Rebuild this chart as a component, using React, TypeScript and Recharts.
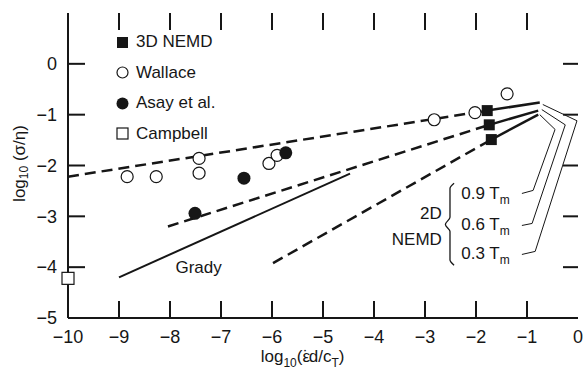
import { ComposedChart, Line, Scatter, XAxis, YAxis, Legend, Label } from 'recharts';

const xTicks = [-10, -9, -8, -7, -6, -5, -4, -3, -2, -1, 0];
const yTicks = [-5, -4, -3, -2, -1, 0];

// measured points
const nemd3d = [
  { x: -1.78, y: -0.92 },
  { x: -1.74, y: -1.2 },
  { x: -1.7, y: -1.49 },
];
const wallace = [
  { x: -8.84, y: -2.22 },
  { x: -8.27, y: -2.22 },
  { x: -7.43, y: -1.86 },
  { x: -7.43, y: -2.15 },
  { x: -6.06, y: -1.96 },
  { x: -5.9, y: -1.8 },
  { x: -2.82, y: -1.1 },
  { x: -2.02, y: -0.96 },
  { x: -1.39, y: -0.59 },
];
const asay = [
  { x: -7.51, y: -2.94 },
  { x: -6.55, y: -2.25 },
  { x: -5.73, y: -1.75 },
];
const campbell = [{ x: -10, y: -4.22 }];

// 2D NEMD fits: dashed = extrapolation, solid = simulated range
const upperDash = [{ x: -10, y: -2.22 }, { x: -1.78, y: -0.92 }];
const upperSolid = [{ x: -1.78, y: -0.92 }, { x: -0.75, y: -0.76 }];
const middleDash = [{ x: -8.04, y: -3.2 }, { x: -1.74, y: -1.2 }];
const middleSolid = [{ x: -1.74, y: -1.2 }, { x: -0.78, y: -0.92 }];
const lowerDash = [{ x: -5.98, y: -3.92 }, { x: -1.7, y: -1.49 }];
const lowerSolid = [{ x: -1.7, y: -1.49 }, { x: -0.78, y: -1.0 }];
const grady = [{ x: -9.0, y: -4.2 }, { x: -4.47, y: -2.16 }];

// leader lines from the temperature labels to the line ends
const leader09 = [{ x: -1.1, y: -2.55 }, { x: -0.88, y: -2.49 }, { x: -0.45, y: -1.29 }, { x: -0.75, y: -1.0 }];
const leader06 = [{ x: -1.1, y: -3.18 }, { x: -0.9, y: -3.14 }, { x: -0.25, y: -1.2 }, { x: -0.71, y: -0.9 }];
const leader03 = [{ x: -1.1, y: -3.75 }, { x: -0.84, y: -3.69 }, { x: -0.02, y: -1.12 }, { x: -0.69, y: -0.8 }];
const brace = [
  { x: -2.43, y: -2.35 },
  { x: -2.51, y: -2.45 },
  { x: -2.51, y: -3.02 },
  { x: -2.6, y: -3.16 },
  { x: -2.51, y: -3.3 },
  { x: -2.51, y: -3.86 },
  { x: -2.43, y: -3.96 },
];

const notes = [
  { x: -7.44, y: -4.0, text: 'Grady', anchor: 'middle' },
  { x: -2.67, y: -2.94, text: '2D', anchor: 'end' },
  { x: -2.67, y: -3.45, text: 'NEMD', anchor: 'end' },
];
const tempLabels = [
  { x: -2.29, y: -2.55, text: '0.9' },
  { x: -2.29, y: -3.16, text: '0.6' },
  { x: -2.29, y: -3.73, text: '0.3' },
];

const legendItems = ['3D NEMD', 'Wallace', 'Asay et al.', 'Campbell'];

// inward tick marks on all four sides, placed at the tick values
const tickPoints = [
  ...xTicks.slice(1, -1).map((t) => ({ x: t, y: -5, side: 'bottom' })),
  ...xTicks.slice(1, -1).map((t) => ({ x: t, y: 1, side: 'top' })),
  ...yTicks.slice(1).map((t) => ({ x: -10, y: t, side: 'left' })),
  ...yTicks.slice(1).map((t) => ({ x: 0, y: t, side: 'right' })),
];

const INK = '#161616';
const FONT = '"Liberation Sans", Arial, sans-serif';

const fmt = (v: number) => (v < 0 ? '\u2212' + Math.abs(v) : String(v));

const FilledSquare = ({ cx, cy }: any) => <rect x={cx - 5.5} y={cy - 5.5} width={11} height={11} fill={INK} />;
const OpenSquare = ({ cx, cy }: any) => <rect x={cx - 6} y={cy - 6} width={12} height={12} fill="#fff" stroke={INK} strokeWidth={1.2} />;
const OpenCircle = ({ cx, cy }: any) => <circle cx={cx} cy={cy} r={6} fill="#fff" stroke={INK} strokeWidth={1.2} />;
const FilledCircle = ({ cx, cy }: any) => <circle cx={cx} cy={cy} r={6.5} fill={INK} />;

const TickMark = ({ cx, cy, payload }: any) => {
  const w = 2;
  const side = payload && payload.side;
  if (side === 'bottom') return <rect x={cx - w / 2} y={cy - 17} width={w} height={17} fill={INK} />;
  if (side === 'top') return <rect x={cx - w / 2} y={cy} width={w} height={17} fill={INK} />;
  if (side === 'left') return <rect x={cx} y={cy - w / 2} width={17} height={w} fill={INK} />;
  return <rect x={cx - 15} y={cy - w / 2} width={15} height={w} fill={INK} />;
};

const NoteText = ({ cx, cy, payload }: any) => (
  <text x={cx} y={cy} dy="0.35em" textAnchor={payload.anchor} fontSize={17} fontFamily={FONT} fill={INK}>
    {payload.text}
  </text>
);

const TempText = ({ cx, cy, payload }: any) => (
  <text x={cx} y={cy} dy="0.35em" fontSize={17} fontFamily={FONT} fill={INK}>
    {payload.text} T
    <tspan dy={5} fontSize={12}>m</tspan>
  </text>
);

const BottomTick = ({ x, y, payload }: any) => (
  <text x={x} y={y + 25} textAnchor="middle" fontSize={18} fontFamily={FONT} fill={INK}>
    {fmt(payload.value)}
  </text>
);
const LeftTick = ({ x, y, payload }: any) => (
  <text x={x - 11} y={y} dy="0.35em" textAnchor="end" fontSize={18} fontFamily={FONT} fill={INK}>
    {fmt(payload.value)}
  </text>
);

const XTitle = ({ viewBox }: any) => {
  const x = viewBox.x + viewBox.width * 0.46;
  return (
    <text x={x} y={viewBox.y + 44} textAnchor="middle" fontSize={17} fontFamily={FONT} fill={INK}>
      log
      <tspan dy={5} fontSize={12}>10</tspan>
      <tspan dy={-5}>(ε</tspan>
      <tspan dx={-7}>˙</tspan>
      <tspan>d/c</tspan>
      <tspan dy={5} fontSize={12}>T</tspan>
      <tspan dy={-5}>)</tspan>
    </text>
  );
};

const YTitle = ({ viewBox }: any) => {
  const x = viewBox.x + 19;
  const y = viewBox.y + viewBox.height / 2 - 2;
  return (
    <text x={x} y={y} textAnchor="middle" dominantBaseline="central" transform={`rotate(-90, ${x}, ${y})`} fontSize={17} fontFamily={FONT} fill={INK}>
      log
      <tspan dy={5} fontSize={12}>10</tspan>
      <tspan dy={-5}> (σ/η)</tspan>
    </text>
  );
};

const markerFor = (i: number) => {
  if (i === 0) return <rect x={1} y={1} width={11} height={11} fill={INK} />;
  if (i === 1) return <circle cx={6.5} cy={6.5} r={5.5} fill="#fff" stroke={INK} strokeWidth={1.2} />;
  if (i === 2) return <circle cx={6.5} cy={6.5} r={6} fill={INK} />;
  return <rect x={1} y={1} width={11} height={11} fill="#fff" stroke={INK} strokeWidth={1.2} />;
};

const LegendBox = () => (
  <div style={{ fontFamily: FONT, fontSize: 17, color: INK }}>
    {legendItems.map((name, i) => (
      <div key={name} style={{ display: 'flex', alignItems: 'center', height: 30.5 }}>
        <svg width={13} height={13} style={{ marginRight: 7 }}>
          {markerFor(i)}
        </svg>
        <span>{name}</span>
      </div>
    ))}
  </div>
);

const dashed = { stroke: INK, strokeWidth: 2.5, strokeDasharray: '11 6', dot: false, isAnimationActive: false, type: 'linear' as const, dataKey: 'y' };
const solid = { stroke: INK, strokeWidth: 2.5, dot: false, isAnimationActive: false, type: 'linear' as const, dataKey: 'y' };
const thin = { stroke: INK, strokeWidth: 1, dot: false, isAnimationActive: false, type: 'linear' as const, dataKey: 'y' };

export default function App() {
  const axisLine = { stroke: INK, strokeWidth: 2 };
  const tickLine = { stroke: INK, strokeWidth: 1.6 };
  return (
    <div style={{ position: 'absolute', left: 0, top: 0, width: 587, height: 380, background: '#fff' }}>
      <ComposedChart width={587} height={380} margin={{ top: 13, right: 9, left: 0, bottom: 0 }}>
        {/* mirrored helper axes: inward tick marks only */}
        <XAxis
          xAxisId="bottomMarks"
          orientation="bottom"
          type="number"
          domain={[-10, 0]}
          ticks={xTicks}
          interval={0}
          height={0}
          mirror
          tickSize={17}
          axisLine={false}
          tickLine={tickLine}
          tick={false}
        />
        <XAxis
          type="number"
          dataKey="x"
          domain={[-10, 0]}
          ticks={xTicks}
          interval={0}
          height={62}
          tickSize={0}
          tickMargin={0}
          axisLine={axisLine}
          tickLine={false}
          tick={BottomTick}
        >
          <Label content={XTitle} />
        </XAxis>
        <XAxis
          xAxisId="top"
          orientation="top"
          type="number"
          domain={[-10, 0]}
          ticks={xTicks}
          interval={0}
          height={0}
          mirror
          tickSize={17}
          axisLine={axisLine}
          tickLine={tickLine}
          tick={false}
        />
        <YAxis
          yAxisId="leftMarks"
          orientation="left"
          type="number"
          domain={[-5, 1]}
          ticks={yTicks}
          interval={0}
          width={0}
          mirror
          tickSize={17}
          axisLine={false}
          tickLine={tickLine}
          tick={false}
        />
        <YAxis
          type="number"
          dataKey="y"
          domain={[-5, 1]}
          ticks={yTicks}
          interval={0}
          width={68}
          tickSize={0}
          tickMargin={0}
          axisLine={axisLine}
          tickLine={false}
          tick={LeftTick}
        >
          <Label content={YTitle} />
        </YAxis>
        <YAxis
          yAxisId="right"
          orientation="right"
          type="number"
          domain={[-5, 1]}
          ticks={yTicks}
          interval={0}
          width={0}
          mirror
          tickSize={15}
          axisLine={axisLine}
          tickLine={tickLine}
          tick={false}
        />
        <Legend
          layout="vertical"
          align="center"
          verticalAlign="middle"
          content={LegendBox}
          wrapperStyle={{ left: 116, top: 27, width: 160, height: 125 }}
        />

        <Line data={upperDash} {...dashed} />
        <Line data={middleDash} {...dashed} />
        <Line data={lowerDash} {...dashed} />
        <Line data={upperSolid} {...solid} />
        <Line data={middleSolid} {...solid} />
        <Line data={lowerSolid} {...solid} />
        <Line data={grady} {...solid} strokeWidth={2} />
        <Line data={leader09} {...thin} />
        <Line data={leader06} {...thin} />
        <Line data={leader03} {...thin} />
        <Line data={brace} {...thin} strokeWidth={1.3} type="monotoneY" />

        <Scatter data={wallace} shape={OpenCircle} isAnimationActive={false} />
        <Scatter data={asay} shape={FilledCircle} isAnimationActive={false} />
        <Scatter data={campbell} shape={OpenSquare} isAnimationActive={false} />
        <Scatter data={nemd3d} shape={FilledSquare} isAnimationActive={false} />
        <Scatter data={notes} shape={NoteText} isAnimationActive={false} />
        <Scatter data={tempLabels} shape={TempText} isAnimationActive={false} />
        <Scatter data={tickPoints} shape={TickMark} isAnimationActive={false} />
      </ComposedChart>
    </div>
  );
}
